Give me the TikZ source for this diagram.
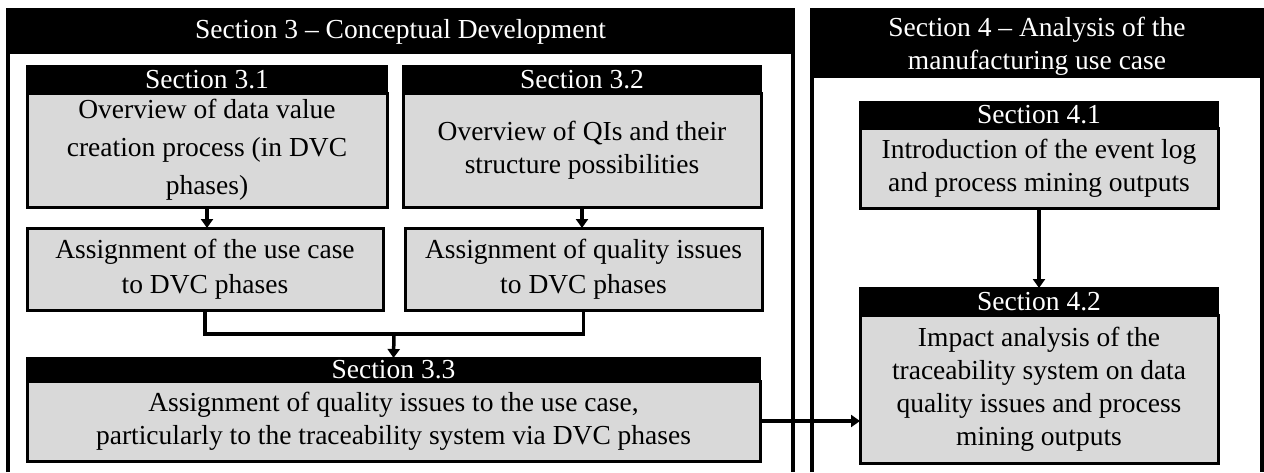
\documentclass[tikz,border=0pt]{standalone}
\usepackage{fontspec}
\setmainfont{Liberation Serif}
\usepackage{tikz}
\usetikzlibrary{positioning,arrows.meta}
\definecolor{boxgray}{RGB}{217,217,217}
\newcommand{\boxfont}{\fontsize{27.5}{33}\selectfont}

\begin{document}
\begin{tikzpicture}[x=1pt,y=-1pt,
	frame/.style={line width=3.5pt},
	head/.style={draw=black,fill=black,text=white,line width=2.5pt,inner sep=0pt,outer sep=0pt,font=\boxfont,align=center},
	body/.style={draw=black,fill=boxgray,line width=3pt,inner sep=0pt,outer sep=0pt,font=\boxfont,align=center},
	link/.style={line width=3.5pt},
	conn/.style={link,-{Triangle[length=9pt,width=12pt]}}]
		\useasboundingbox (0,0) rectangle (1264,472);
		
		% the two sections
		\draw[frame] (8,472) -- (8,10) -- (793,10) -- (793,472);
		\draw[frame] (812,472) -- (812,10) -- (1262,10) -- (1262,472);
		\node[head,minimum width=785pt,minimum height=43pt,anchor=north west] (sec3) at (8,10) {Section 3 -- Conceptual Development};
		\node[head,minimum width=450pt,minimum height=67pt,text depth=0pt,anchor=north west] (sec4) at (812,10) {Section 4 -- Analysis of the\\manufacturing use case};
		
		% section 3
		\node[body,minimum width=360pt,minimum height=114pt,anchor=north west] (s31) at (27,93) {Overview of data value\\[5pt]creation process (in DVC\\[5pt]phases)};
		\node[head,minimum width=360pt,minimum height=27pt,above=0pt of s31] (s31h) {Section 3.1};
		\node[body,minimum width=358pt,minimum height=114pt,anchor=north west] (s32) at (403,93) {Overview of QIs and their\\structure possibilities};
		\node[head,minimum width=358pt,minimum height=27pt,above=0pt of s32] (s32h) {Section 3.2};
		
		\node[body,minimum width=356pt,minimum height=82pt,anchor=north west] (usecase) at (27,228) {Assignment of the use case\\[2pt]to DVC phases};
		\node[body,minimum width=357pt,minimum height=82pt,anchor=north west] (issues) at (405,228) {Assignment of quality issues\\[2pt]to DVC phases};
		
		\node[body,minimum width=733pt,minimum height=80pt,anchor=north west] (s33) at (27,381) {Assignment of quality issues to the use case,\\particularly to the traceability system via DVC phases};
		\node[head,minimum width=733pt,minimum height=23pt,above=0pt of s33] (s33h) {Section 3.3};
		
		% section 4
		\node[body,minimum width=358pt,minimum height=80pt,anchor=north west] (s41) at (860,128) {Introduction of the event log\\and process mining outputs};
		\node[head,minimum width=358pt,minimum height=26pt,above=0pt of s41] (s41h) {Section 4.1};
		\node[body,minimum width=358pt,minimum height=148pt,anchor=north west] (s42) at (860,315) {Impact analysis of the\\traceability system on data\\quality issues and process\\mining outputs};
		\node[head,minimum width=358pt,minimum height=27pt,above=0pt of s42] (s42h) {Section 4.2};
		
		% connectors
		\coordinate (merge) at (394,334);
		\draw[conn] (s31.south) -- (s31.south |- usecase.north);
		\draw[conn] (s32.south) -- (s32.south |- issues.north);
		\draw[link] (usecase.south) |- (merge) -| (issues.south);
		\draw[conn] (merge) -- (s33h.north);
		\draw[conn] (s33.east) -- (s33.east -| s42.west);
		\draw[conn] (s41.south) -- (s42h.north);
	\end{tikzpicture}
\end{document}
